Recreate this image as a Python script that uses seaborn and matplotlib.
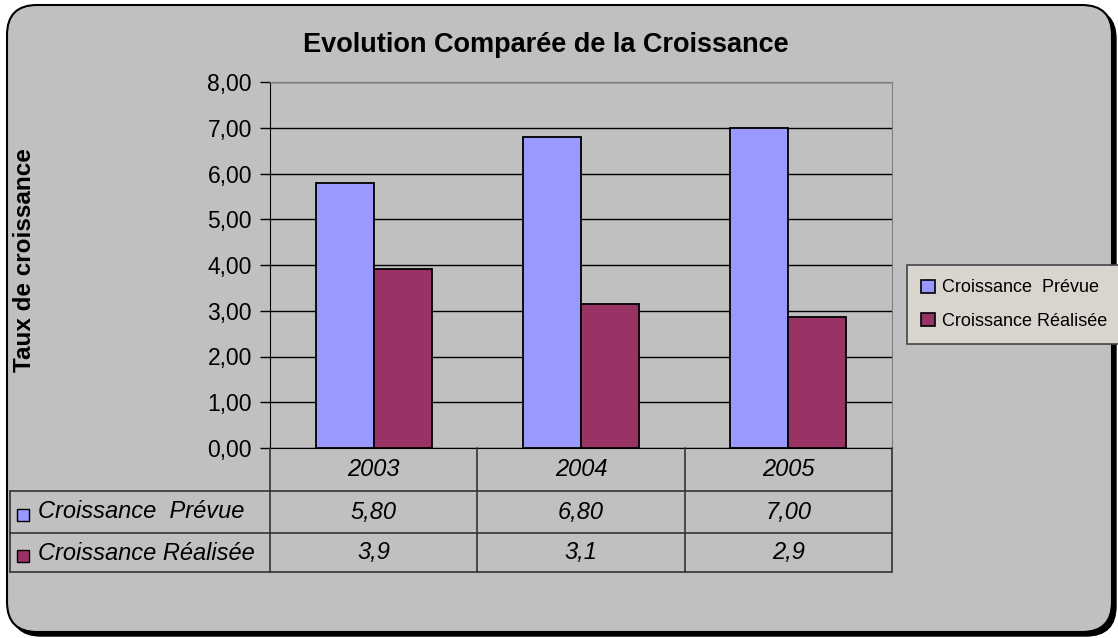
import numpy as np
import pandas as pd
import matplotlib
matplotlib.use('Agg')
import matplotlib.pyplot as plt
import matplotlib.transforms as mtransforms
import seaborn as sns
from matplotlib.patches import FancyBboxPatch, Patch, Rectangle
from matplotlib.lines import Line2D
from matplotlib.ticker import FuncFormatter

# données
annees = ['2003', '2004', '2005']
series = ['Croissance  Prévue', 'Croissance Réalisée']
prevue = [5.80, 6.80, 7.00]
realisee = [3.91, 3.14, 2.86]
couleurs = ['#9999FF', '#993366']

df = pd.DataFrame({
    'annee': annees * 2,
    'serie': [series[0]] * len(annees) + [series[1]] * len(annees),
    'taux': prevue + realisee,
})

sns.set_style('white')
plt.rcParams['font.family'] = ['Liberation Sans', 'DejaVu Sans']
plt.rcParams['text.color'] = 'black'
plt.rcParams['axes.labelcolor'] = 'black'
plt.rcParams['ytick.color'] = 'black'

W, H = 1118, 638
fig = plt.figure(figsize=(W / 100, H / 100), dpi=100)
fig.patch.set_facecolor('white')


def fx(px):
    return px / W


def fy(py):
    return 1 - py / H


# cadre arrondi + ombre
shadow = FancyBboxPatch((0.11, (H - 636) / 100), 11.05, 6.27,
                        boxstyle='round,pad=0,rounding_size=0.3',
                        transform=fig.dpi_scale_trans, fc='black', ec='black', zorder=-2)
box = FancyBboxPatch((0.07, (H - 632) / 100), 11.05, 6.27,
                     boxstyle='round,pad=0,rounding_size=0.3',
                     transform=fig.dpi_scale_trans, fc='#C0C0C0', ec='black', lw=1.5, zorder=-1)
fig.add_artist(shadow)
fig.add_artist(box)

ax = fig.add_axes([fx(270), fy(448), fx(892) - fx(270), fy(82) - fy(448)])
ax.set_facecolor('none')

sns.barplot(data=df, x='annee', y='taux', hue='serie', palette=couleurs,
            width=0.56, edgecolor='black', linewidth=1.3, saturation=1,
            legend=False, ax=ax, zorder=3)

ax.set_xlim(-0.5, 2.5)
ax.set_ylim(0, 8)
ax.set_yticks(np.arange(0, 9, 1))
ax.yaxis.set_major_formatter(FuncFormatter(lambda v, p: f'{v:.2f}'.replace('.', ',')))
ax.grid(axis='y', color='black', lw=1)
ax.set_axisbelow(True)
ax.set_xticks([])
ax.set_xlabel('')
ax.set_ylabel('')
ax.tick_params(axis='y', left=True, length=7, width=1, pad=6, labelsize=16.5,
               colors='black', labelcolor='black')
ax.spines['left'].set_color('black')
ax.spines['bottom'].set_color('black')
ax.spines['top'].set_color('#808080')
ax.spines['right'].set_color('#808080')

fig.text(fx(546), fy(45), 'Evolution Comparée de la Croissance', ha='center', va='center',
         fontsize=19.5, fontweight='bold', color='black')
fig.text(fx(25), fy(260), 'Taux de croissance', rotation=90, ha='center', va='center',
         fontsize=17.5, fontweight='bold', color='black')

# table de données sous le graphique
tr = mtransforms.blended_transform_factory(ax.transData, fig.transFigure)
lc = '#333333'
for xb in [0.5, 1.5, 2.5]:
    fig.add_artist(Line2D([xb, xb], [fy(448), fy(572)], transform=tr, color=lc, lw=1.2))
fig.add_artist(Line2D([fx(270), fx(270)], [fy(448), fy(572)], color=lc, lw=1.2))
fig.add_artist(Line2D([fx(10), fx(10)], [fy(491), fy(572)], color=lc, lw=1.2))
for yb in [491, 533, 572]:
    fig.add_artist(Line2D([fx(10), fx(892)], [fy(yb), fy(yb)], color=lc, lw=1.2))

fs = 17
for i, a in enumerate(annees):
    fig.text(i, fy(470), a, transform=tr, ha='center', va='center', fontsize=fs, style='italic')
    fig.text(i, fy(512), f'{prevue[i]:.2f}'.replace('.', ','), transform=tr,
             ha='center', va='center', fontsize=fs, style='italic')
    fig.text(i, fy(553), f'{realisee[i]:.1f}'.replace('.', ','), transform=tr,
             ha='center', va='center', fontsize=fs, style='italic')

for s, c, yc in zip(series, couleurs, [512, 553]):
    fig.add_artist(Rectangle((fx(17), fy(yc + 9)), 12 / W, 12 / H, transform=fig.transFigure,
                             fc=c, ec='black', lw=1))
    fig.text(fx(38), fy(yc), s, ha='left', va='center', fontsize=fs, style='italic')

# légende
handles = [Patch(facecolor=c, edgecolor='black', lw=1.2, label=s) for s, c in zip(series, couleurs)]
leg = fig.legend(handles=handles, loc='upper left', bbox_to_anchor=(fx(907), fy(265)),
                 borderaxespad=0, frameon=True, fancybox=False, framealpha=1,
                 facecolor='#DAD4CE', edgecolor='#444444', handlelength=0.75,
                 handleheight=0.75, handletextpad=0.4, labelspacing=0.9, borderpad=0.8,
                 prop={'family': ['Liberation Sans Narrow', 'Liberation Sans'], 'size': 13})
leg.get_frame().set_linewidth(1.2)

fig.savefig('out.png', dpi=100, facecolor='white')
